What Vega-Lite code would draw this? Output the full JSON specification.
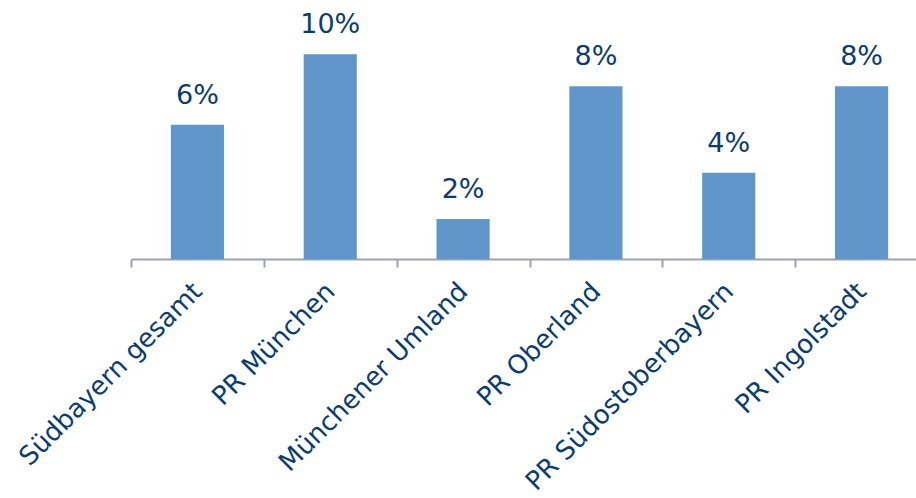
{
  "$schema": "https://vega.github.io/schema/vega-lite/v6.json",
  "width": 785,
  "height": 259,
  "autosize": {"type": "none"},
  "padding": {"left": 131, "top": 0, "right": 0, "bottom": 239},
  "background": "white",
  "config": {"view": {"stroke": null}, "font": "DejaVu Sans"},
  "data": {"values": [
    {"region": "Südbayern gesamt", "share": 0.0638},
    {"region": "PR München", "share": 0.0972},
    {"region": "Münchener Umland", "share": 0.019},
    {"region": "PR Oberland", "share": 0.082},
    {"region": "PR Südostoberbayern", "share": 0.041},
    {"region": "PR Ingolstadt", "share": 0.082}
  ]},
  "encoding": {
    "x": {
      "field": "region", "type": "nominal", "sort": null,
      "scale": {"range": [0, 797], "paddingInner": 0, "paddingOuter": 0},
      "axis": {
        "title": null, "labelAngle": -45, "labelFontSize": 26, "labelColor": "#0B3C6E",
        "labelFont": "DejaVu Sans", "labelPadding": 20, "labelAlign": "right", "labelBaseline": "middle",
        "domainColor": "#9DA2AE", "domainWidth": 2, "tickColor": "#9DA2AE", "tickWidth": 2,
        "tickSize": 8, "tickBand": "extent", "labelLimit": 400
      }
    },
    "y": {
      "field": "share", "type": "quantitative",
      "scale": {"domain": [0, 0.123]},
      "axis": null
    }
  },
  "layer": [
    {"mark": {"type": "bar", "color": "#6196CA", "width": {"band": 0.4}}},
    {
      "mark": {"type": "text", "baseline": "alphabetic", "dy": -21, "fontSize": 27, "color": "#0B3C6E", "font": "DejaVu Sans"},
      "encoding": {"text": {"field": "share", "type": "quantitative", "format": ".0%"}}
    }
  ]
}
